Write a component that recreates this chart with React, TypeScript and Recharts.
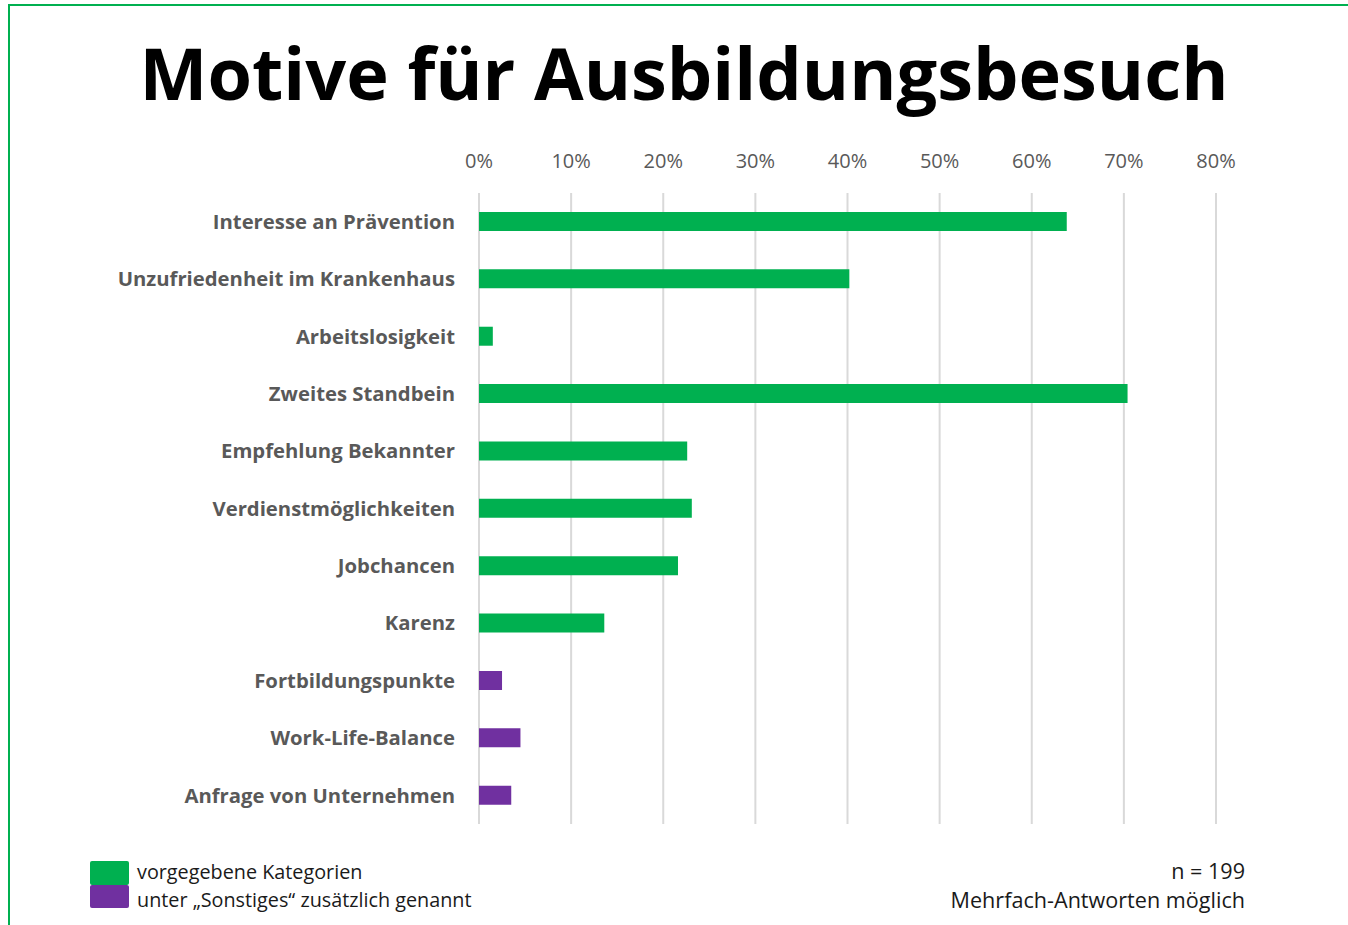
import { BarChart, Bar, XAxis, YAxis, CartesianGrid, Cell } from 'recharts';

const categories = [
  'Interesse an Prävention',
  'Unzufriedenheit im Krankenhaus',
  'Arbeitslosigkeit',
  'Zweites Standbein',
  'Empfehlung Bekannter',
  'Verdienstmöglichkeiten',
  'Jobchancen',
  'Karenz',
  'Fortbildungspunkte',
  'Work-Life-Balance',
  'Anfrage von Unternehmen',
];
// share of respondents (%)
const values = [63.8, 40.2, 1.5, 70.4, 22.6, 23.1, 21.6, 13.6, 2.5, 4.5, 3.5];
// 0 = vorgegebene Kategorie, 1 = unter "Sonstiges" genannt
const groups = [0, 0, 0, 0, 0, 0, 0, 0, 1, 1, 1];
const xTicks = [0, 10, 20, 30, 40, 50, 60, 70, 80];
const legendLabels = ['vorgegebene Kategorien', 'unter „Sonstiges“ zusätzlich genannt'];

const GREEN = '#00B050';
const PURPLE = '#7030A0';
const colors = [GREEN, PURPLE];

const data = categories.map((name, i) => ({ name, value: values[i], group: groups[i] }));

const font = '"Open Sans", sans-serif';

export default function App() {
  return (
    <div style={{ position: 'absolute', left: 0, top: 0, width: 1348, height: 925, overflow: 'hidden', background: '#fff', fontFamily: font }}>
      <div style={{ position: 'absolute', left: 8, top: 4, width: 1400, height: 1000, borderTop: `2px solid ${GREEN}`, borderLeft: `2px solid ${GREEN}` }} />
      <div style={{ position: 'absolute', left: 0, top: 22, width: 1368, textAlign: 'center', fontSize: 72, fontWeight: 700, color: '#000', lineHeight: '100px' }}>
        Motive für Ausbildungsbesuch
      </div>
      <div style={{ position: 'absolute', left: 0, top: 0 }}>
        <BarChart width={1348} height={925} data={data} layout="vertical" margin={{ top: 153, right: 132, bottom: 101, left: 0 }} barSize={19}>
          <CartesianGrid horizontal={false} stroke="#d9d9d9" strokeWidth={2} />
          <XAxis
            type="number"
            orientation="top"
            domain={[0, 80]}
            ticks={xTicks}
            tickFormatter={(v: number) => `${v}%`}
            axisLine={false}
            tickLine={false}
            tickSize={0}
            tickMargin={25}
            height={40}
            tick={{ fill: '#595959', fontSize: 20, fontFamily: font }}
          />
          <YAxis
            type="category"
            dataKey="name"
            width={479}
            axisLine={false}
            tickLine={false}
            tickSize={0}
            tickMargin={24}
            interval={0}
            tick={{ fill: '#595959', fontSize: 20.3, fontWeight: 700, fontFamily: font }}
          />
          <Bar dataKey="value" isAnimationActive={false}>
            {data.map((d, i) => (
              <Cell key={i} fill={colors[d.group]} />
            ))}
          </Bar>
        </BarChart>
      </div>
      {legendLabels.map((label, i) => (
        <div key={i}>
          <div style={{ position: 'absolute', left: 90, top: 861 + i * 23.5, width: 39, height: 23.5, background: colors[i], borderRadius: 2 }} />
          <div style={{ position: 'absolute', left: 137, top: 858 + i * 28, fontSize: 19.8, lineHeight: '28px', color: '#1a1a1a', whiteSpace: 'nowrap' }}>
            {label}
          </div>
        </div>
      ))}
      <div style={{ position: 'absolute', right: 103, top: 856, fontSize: 21.6, color: '#1a1a1a', textAlign: 'right', lineHeight: '29px', whiteSpace: 'nowrap' }}>
        <div>n = 199</div>
        <div>Mehrfach-Antworten möglich</div>
      </div>
    </div>
  );
}
